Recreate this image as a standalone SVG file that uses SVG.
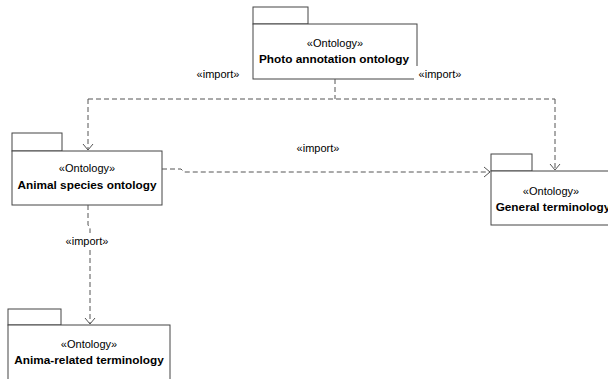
<svg xmlns="http://www.w3.org/2000/svg" width="608" height="379" viewBox="0 0 608 379">
<style>
.pkg{fill:#fff;stroke:#444;stroke-width:1}
.st{font-family:"Liberation Sans",Arial,sans-serif;font-size:11px;fill:#000;text-anchor:middle}
.nm{font-family:"Liberation Sans",Arial,sans-serif;font-size:11.8px;font-weight:bold;fill:#000;text-anchor:middle}
.lbl{font-family:"Liberation Sans",Arial,sans-serif;font-size:11px;fill:#000;text-anchor:middle}
.dep{fill:none;stroke:#555;stroke-width:1;stroke-dasharray:5,3}
.hd{fill:none;stroke:#555;stroke-width:1}
</style>
<rect width="608" height="379" fill="#fff"/>
<g id="photo">
<rect class="pkg" x="253" y="7" width="55" height="17"/>
<rect class="pkg" x="253" y="24" width="164" height="55"/>
<text class="st" x="335" y="47">«Ontology»</text>
<text class="nm" x="334" y="63">Photo annotation ontology</text>
</g>
<g id="animal">
<rect class="pkg" x="12" y="133" width="50" height="18"/>
<rect class="pkg" x="12" y="151" width="150" height="54"/>
<text class="st" x="87" y="172">«Ontology»</text>
<text class="nm" x="87" y="189">Animal species ontology</text>
</g>
<g id="general">
<rect class="pkg" x="491" y="154" width="41" height="17"/>
<rect class="pkg" x="491" y="171" width="130" height="54"/>
<text class="st" x="551" y="195">«Ontology»</text>
<text class="nm" x="553" y="211">General terminology</text>
</g>
<g id="anima">
<rect class="pkg" x="8" y="309" width="53" height="16"/>
<rect class="pkg" x="8" y="325" width="162" height="60"/>
<text class="st" x="89" y="348">«Ontology»</text>
<text class="nm" x="89" y="364">Anima-related terminology</text>
</g>
<g id="connectors">
<path class="dep" d="M335,79 V99"/>
<path class="dep" d="M88,99 H555"/>
<path class="dep" d="M88,99 V150"/>
<path class="hd" d="M83,144 L88,150 L93,144"/>
<path class="dep" d="M555,99 V170"/>
<path class="hd" d="M550,164 L555,170 L560,164"/>
<path class="dep" d="M162,169 H181 L184,172 H490"/>
<path class="hd" d="M484,167 L490,172 L484,177"/>
<path class="dep" d="M88,205 V225 L90,228 V233"/>
<path class="dep" d="M90,250 V324"/>
<path class="hd" d="M85,318 L90,324 L95,318"/>
<text class="lbl" x="218" y="78">«import»</text>
<rect x="414" y="66" width="50" height="16" fill="#fff"/>
<text class="lbl" x="440" y="78">«import»</text>
<text class="lbl" x="318" y="152">«import»</text>
<text class="lbl" x="87" y="245">«import»</text>
</g>
</svg>
